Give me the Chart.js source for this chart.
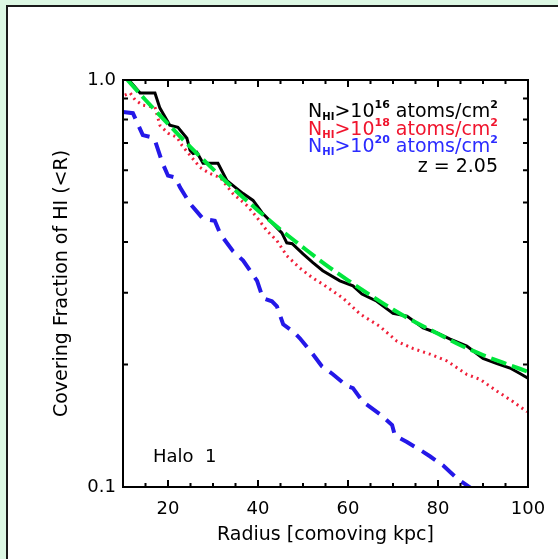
<!DOCTYPE html>
<html><head><meta charset="utf-8">
<script src="https://cdn.jsdelivr.net/npm/chart.js@4"></script>
<style>
html,body{margin:0;padding:0;width:558px;height:559px;overflow:hidden;background:#ddf8e4;}
#panel{position:absolute;left:6px;top:5px;width:700px;height:700px;background:#fff;border:2px solid #1a1a1a;}
#wrap{position:absolute;left:0;top:0;width:558px;height:559px;}
</style></head><body>
<div id="panel"></div>
<div id="wrap"><canvas id="c" width="558" height="559"></canvas></div>
<script>
// ---- data ----
const radiusBlack = [11.3,13.8,17.1,18.2,20.4,22.2,24.2,24.9,25.6,26.4,27.8,31.1,33.1,35.3,36.7,38.9,40.9,43.1,45.3,46.4,47.6,50.0,52.2,54.4,58.2,61.1,63.1,66.4,70.0,73.1,76.7,79.8,82.7,86.4,90.0,93.1,96.0,98.2,100];
const fracBlack   = [1.0,0.929,0.929,0.853,0.774,0.765,0.719,0.672,0.660,0.664,0.624,0.624,0.566,0.541,0.526,0.506,0.472,0.446,0.421,0.398,0.396,0.374,0.356,0.340,0.321,0.312,0.298,0.286,0.267,0.263,0.246,0.239,0.231,0.222,0.207,0.201,0.196,0.190,0.185];

const radiusRed = [10.4,11.6,12.7,14.4,17.1,18.2,20.0,22.0,23.1,24.9,27.1,29.3,31.6,34.4,37.6,39.8,42.0,44.2,46.4,49.3,52.2,54.4,58.9,62.7,67.1,70.9,74.4,78.2,82.0,86.4,89.3,93.1,96.7,99.8];
const fracRed   = [0.918,0.929,0.893,0.867,0.858,0.774,0.740,0.723,0.691,0.653,0.610,0.589,0.576,0.526,0.491,0.459,0.426,0.403,0.370,0.345,0.326,0.315,0.291,0.266,0.248,0.228,0.219,0.212,0.204,0.189,0.184,0.172,0.162,0.153];

const radiusBlue = [10.0,12.2,14.4,16.4,17.1,18.7,20.0,21.6,22.7,24.9,27.8,30.4,31.6,34.4,36.7,39.8,41.1,43.1,44.2,45.6,47.8,49.3,52.2,54.2,56.7,59.8,61.1,63.3,67.1,69.8,70.4,73.1,76.7,78.2,81.1,84.2,87.6];
const fracBlue   = [0.834,0.829,0.732,0.723,0.711,0.628,0.582,0.576,0.544,0.497,0.456,0.451,0.419,0.380,0.360,0.321,0.291,0.286,0.278,0.251,0.241,0.232,0.212,0.198,0.189,0.177,0.175,0.162,0.151,0.142,0.134,0.129,0.122,0.119,0.113,0.105,0.0989];

const radiusFit = [11,15,20,25,30,35,40,45,50,55,60,65,70,75,80,85,90,95,100];
const fracFit   = [1.0,0.893,0.780,0.684,0.604,0.535,0.478,0.429,0.388,0.352,0.322,0.296,0.273,0.254,0.238,0.223,0.211,0.201,0.192];

const xMajorTicks = [20,40,60,80,100];
const xMinorTicks = [15,25,30,35,45,50,55,65,70,75,85,90,95];
const yMajorTicks = [0.1,1.0];
const yTickLabels = ['0.1','1.0'];
const yMinorTicks = [0.2,0.3,0.4,0.5,0.6,0.7,0.8,0.9];

const legendRows = [
  {color:'#000000', exp:'16'},
  {color:'#f0142d', exp:'18'},
  {color:'#2b2bff', exp:'20'}
];
const redshiftText = 'z = 2.05';
const haloText = 'Halo  1';

const FONT = '"DejaVu Sans", sans-serif';
const pts = (xs, ys) => xs.map((v,i)=>({x:v, y:ys[i]}));

const frameTicks = {
  id:'frameTicks',
  afterDatasetsDraw(chart){
    const {ctx, chartArea:a, scales:{x,y}} = chart;
    ctx.save();
    ctx.strokeStyle='#000'; ctx.lineWidth=2; ctx.setLineDash([]);
    ctx.strokeRect(a.left, a.top, a.right-a.left, a.bottom-a.top);
    ctx.beginPath();
    const seg=(x0,y0,x1,y1)=>{ctx.moveTo(x0,y0);ctx.lineTo(x1,y1);};
    xMajorTicks.forEach(v=>{const p=x.getPixelForValue(v); seg(p,a.bottom,p,a.bottom-7); seg(p,a.top,p,a.top+7);});
    xMinorTicks.forEach(v=>{const p=x.getPixelForValue(v); seg(p,a.bottom,p,a.bottom-4); seg(p,a.top,p,a.top+4);});
    yMinorTicks.forEach(v=>{const p=y.getPixelForValue(v); seg(a.left,p,a.left+5,p); seg(a.right,p,a.right-5,p);});
    ctx.stroke();
    ctx.restore();
  },
  afterDraw(chart){
    const {ctx} = chart;
    ctx.save();
    ctx.textBaseline='alphabetic';
    const right = 498;
    const baselines = [117,135,152];
    legendRows.forEach((r,i)=>{
      const segs = [
        {t:'N', s:19, dy:0, w:'normal'},
        {t:'HI', s:10, dy:3, w:'bold'},
        {t:'>10', s:19, dy:0, w:'normal'},
        {t:r.exp, s:11, dy:-9, w:'bold'},
        {t:' atoms/cm', s:19, dy:0, w:'normal'},
        {t:'2', s:11, dy:-9, w:'bold'}
      ];
      let total=0;
      segs.forEach(g=>{ctx.font=`${g.w} ${g.s}px ${FONT}`; g.width=ctx.measureText(g.t).width; total+=g.width;});
      let xx = right-total;
      ctx.fillStyle=r.color;
      segs.forEach(g=>{ctx.font=`${g.w} ${g.s}px ${FONT}`; ctx.fillText(g.t, xx, baselines[i]+g.dy); xx+=g.width;});
    });
    ctx.fillStyle='#000';
    ctx.font=`19px ${FONT}`;
    ctx.textAlign='right';
    ctx.fillText(redshiftText, right, 172);
    ctx.textAlign='left';
    ctx.font=`18px ${FONT}`;
    ctx.fillText(haloText, 153, 462);
    ctx.restore();
  }
};

new Chart(document.getElementById('c'), {
  type:'line',
  data:{datasets:[
    {data:pts(radiusFit,fracFit), borderColor:'#00e63c', borderWidth:4, borderDash:[16,6], pointRadius:0, cubicInterpolationMode:'monotone', order:0},
    {data:pts(radiusBlack,fracBlack), borderColor:'#000000', borderWidth:3, pointRadius:0, tension:0, order:1},
    {data:pts(radiusRed,fracRed), borderColor:'#f0203a', borderWidth:3, borderDash:[2,4], pointRadius:0, tension:0, order:2},
    {data:pts(radiusBlue,fracBlue), borderColor:'#2418e8', borderWidth:4, borderDash:[16,9], pointRadius:0, tension:0, order:3}
  ]},
  options:{
    responsive:false, devicePixelRatio:1, animation:false,
    layout:{padding:{left:0, top:80, right:30, bottom:0}},
    plugins:{legend:{display:false}, tooltip:{enabled:false}},
    scales:{
      x:{type:'linear', min:10, max:100, position:'bottom',
        grid:{display:false, drawTicks:false}, border:{display:false},
        ticks:{color:'#000', font:{family:FONT, size:18}, padding:12, autoSkip:false, maxRotation:0},
        afterBuildTicks:s=>{s.ticks = xMajorTicks.map(v=>({value:v}));},
        afterFit:s=>{s.height = 72;},
        title:{display:true, text:'Radius [comoving kpc]', color:'#000', font:{family:FONT, size:19}, padding:{top:0,bottom:13}}
      },
      y:{type:'logarithmic', min:0.1, max:1.0, position:'left',
        grid:{display:false, drawTicks:false}, border:{display:false},
        ticks:{color:'#000', font:{family:FONT, size:18}, padding:7, autoSkip:false,
          callback:(v,i)=>yTickLabels[i]},
        afterBuildTicks:s=>{s.ticks = yMajorTicks.map(v=>({value:v}));},
        afterFit:s=>{s.width = 123;},
        title:{display:true, text:'Covering Fraction of HI (<R)', color:'#000', font:{family:FONT, size:19}, padding:{top:51,bottom:0}}
      }
    }
  },
  plugins:[frameTicks]
});
</script>
</body></html>
